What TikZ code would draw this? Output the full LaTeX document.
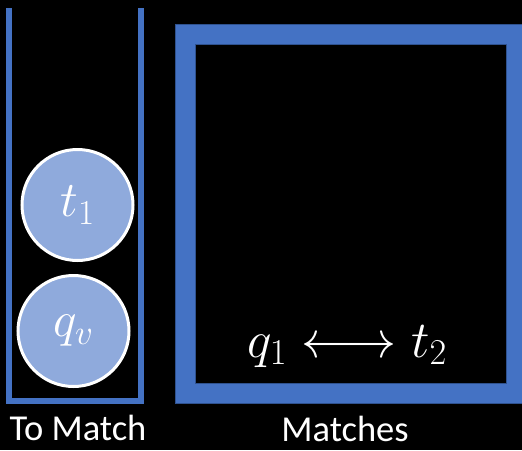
\RequirePackage{fix-cm}
\documentclass[tikz,border=0pt]{standalone}
\usepackage{fontspec}
\setmainfont{Carlito}
\definecolor{frameblue}{HTML}{4472C4}
\definecolor{edgeblue}{HTML}{2F528F}
\definecolor{ballblue}{HTML}{8FAADC}
\begin{document}
\begin{tikzpicture}[x=1pt,y=-1pt,
  tube/.style={draw=frameblue, line width=5.5pt},
  ball/.style={circle, fill=ballblue, draw=white, line width=3pt, minimum size=111pt, inner sep=0pt, text=white, font=\fontsize{50}{50}\selectfont},
  caption/.style={text=white, anchor=base, inner sep=0pt, font=\fontsize{36.5}{37}\selectfont},
  mathlabel/.style={text=white, anchor=base, inner sep=0pt, font=\fontsize{52}{52}\selectfont}]
\fill[black] (0,0) rectangle (522,450);
\useasboundingbox (0,0) rectangle (522,450);
% tube
\draw[tube] (9,8) -- (9,401) -- (141,401) -- (141,8);
\node[ball] (t1) at (77.5,205) {$t_1$};
\node[ball] (qv) at (73.5,331) {$q_v$};
% frame
\path[fill=frameblue, even odd rule, draw=edgeblue, line width=1pt] (175,24) rectangle (526,403) (195,44) rectangle (506,383);
\node[mathlabel] (m) at (347,357) {$q_1\longleftrightarrow t_2$};
\node[caption] (tm) at (78,440) {To Match};
\node[caption] (ma) at (345,441) {Matches};
\end{tikzpicture}
\end{document}
